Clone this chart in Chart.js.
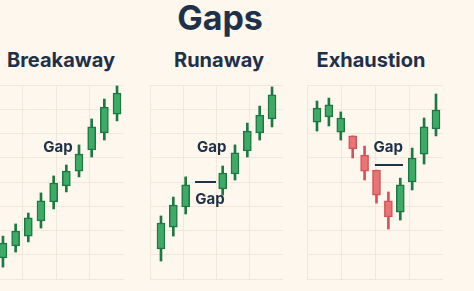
<!DOCTYPE html>
<html>
<head>
<meta charset="utf-8">
<script src="https://cdn.jsdelivr.net/npm/chart.js@4.4.0/dist/chart.umd.min.js"></script>
<style>
  html, body { margin: 0; padding: 0; background: #fdf7ee; width: 474px; height: 291px; overflow: hidden; }
  .txt { position: absolute; font-family: Inter, "Noto Sans", sans-serif; font-weight: 700; color: #1f3149; text-align: center; white-space: nowrap; }
  #titulo { font-size: 34px; line-height: 34px; top: 1px; left: 120px; width: 200px; }
  .sub { font-size: 20px; line-height: 20px; top: 50px; width: 160px; }
  .panel { position: absolute; top: 83px; }
</style>
</head>
<body>
<div id="titulo" class="txt">Gaps</div>
<div class="txt sub" style="left:-19px">Breakaway</div>
<div class="txt sub" style="left:139px">Runaway</div>
<div class="txt sub" style="left:291px">Exhaustion</div>
<canvas id="breakaway_chart" class="panel" width="140" height="198" style="left:-14px"></canvas>
<canvas id="runaway_chart" class="panel" width="137" height="198" style="left:148px"></canvas>
<canvas id="exhaustion_chart" class="panel" width="140" height="198" style="left:305px"></canvas>
<script>
// Velas: posicion, apertura, cierre, maximo, minimo
const breakaway_x = [0, 1, 2, 3, 4, 5, 6, 7, 8, 9];
const breakaway_open = [8.7, 13.6, 17.7, 23.9, 31.8, 38.4, 44.5, 53.2, 60.2, 68.0];
const breakaway_close = [14.8, 19.8, 25.2, 32.2, 39.6, 44.5, 51.5, 62.7, 70.9, 76.7];
const breakaway_high = [17.7, 22.7, 27.2, 35.5, 42.5, 47.0, 55.3, 66.0, 74.2, 79.6];
const breakaway_low = [4.9, 11.1, 15.3, 21.0, 28.9, 35.9, 42.1, 50.3, 57.3, 65.2];

const runaway_x = [0, 1, 2, 5, 6, 7, 8, 9];
const runaway_open = [12.4, 21.4, 29.7, 37.1, 43.3, 52.8, 60.2, 66.0];
const runaway_close = [23.1, 30.5, 38.8, 43.7, 52.0, 61.0, 67.6, 75.9];
const runaway_high = [26.0, 33.8, 42.1, 46.6, 55.3, 64.3, 71.3, 79.2];
const runaway_low = [7.4, 17.7, 26.8, 34.6, 40.8, 50.3, 57.3, 62.7];

const exhaustion_x = [0, 1, 2, 3, 4, 5, 6, 7, 8, 9, 10];
const exhaustion_open = [64.7, 66.8, 60.6, 59.0, 51.1, 44.9, 32.2, 27.6, 40.0, 51.5, 61.9];
const exhaustion_close = [70.5, 71.8, 66.4, 53.6, 44.5, 34.6, 25.6, 38.8, 49.9, 62.7, 69.7];
const exhaustion_high = [73.4, 74.6, 68.9, 59.0, 54.8, 44.9, 35.9, 41.6, 54.0, 66.4, 76.3];
const exhaustion_low = [61.0, 63.1, 57.3, 49.9, 40.8, 31.3, 20.6, 24.3, 36.7, 47.4, 59.0];

const y_min = 0;
const y_max = 80;

// Etiquetas "Gap" y lineas
const gapPlugin = {
    id: 'gaps',
    afterDatasetsDraw(chart, args, opts) {
        const c = chart.ctx;
        const xs = chart.scales.x;
        const ys = chart.scales.y;
        c.save();
        c.fillStyle = '#1f3149';
        c.strokeStyle = '#1f3149';
        c.lineWidth = 2;
        c.font = '700 15px Inter, "Noto Sans", sans-serif';
        c.textAlign = 'center';
        c.textBaseline = 'alphabetic';
        (opts.labels || []).forEach(function (l) {
            c.fillText(l.text, xs.getPixelForValue(l.x), ys.getPixelForValue(l.y));
        });
        (opts.lines || []).forEach(function (l) {
            const y = Math.round(ys.getPixelForValue(l.y));
            c.beginPath();
            c.moveTo(xs.getPixelForValue(l.x1), y);
            c.lineTo(xs.getPixelForValue(l.x2), y);
            c.stroke();
        });
        c.restore();
    }
};

function GraficaVelas(id, pos, open, close, high, low, x_min, x_max, extras) {
    let ctx = document.getElementById(id).getContext('2d');
    var sube = close.map(function (v, i) { return v >= open[i]; });
    var relleno = sube.map(function (s) { return s ? '#3dab65' : '#ea7373'; });
    var borde = sube.map(function (s) { return s ? '#1d7843' : '#d6525a'; });

    new Chart(ctx, {
        type: 'bar',
        data: {
            datasets: [
                {
                    data: pos.map(function (x, i) { return { x: x, y: [open[i], close[i]] }; }),
                    backgroundColor: relleno,
                    borderColor: borde,
                    borderWidth: 1.5,
                    borderSkipped: false,
                    barThickness: 8,
                    grouped: false
                },
                {
                    data: pos.map(function (x, i) { return { x: x, y: [low[i], high[i]] }; }),
                    backgroundColor: borde,
                    borderWidth: 0,
                    barThickness: 2,
                    grouped: false
                }
            ]
        },
        options: {
            responsive: false,
            animation: false,
            layout: { padding: 2 },
            plugins: {
                legend: { display: false },
                tooltip: { enabled: false },
                gaps: extras
            },
            scales: {
                x: {
                    type: 'linear',
                    min: x_min,
                    max: x_max,
                    offset: false,
                    grid: { offset: false, color: '#f1e8da', lineWidth: 1, drawTicks: false },
                    border: { display: false },
                    ticks: { display: false },
                    afterBuildTicks: function (axis) {
                        axis.ticks = [0, 1, 2, 3].map(function (k) {
                            return { value: x_min + k * (x_max - x_min) / 4 };
                        });
                    }
                },
                y: {
                    min: y_min,
                    max: y_max,
                    grid: { color: '#f1e8da', lineWidth: 1, drawTicks: false },
                    border: { display: false },
                    ticks: { display: false, stepSize: 10 }
                }
            }
        },
        plugins: [gapPlugin]
    });
}

GraficaVelas('breakaway_chart', breakaway_x, breakaway_open, breakaway_close, breakaway_high, breakaway_low, -1.18, 9.55,
    { labels: [{ text: 'Gap', x: 4.34, y: 52.2 }] });
GraficaVelas('runaway_chart', runaway_x, runaway_open, runaway_close, runaway_high, runaway_low, -0.89, 9.89,
    { labels: [{ text: 'Gap', x: 4.11, y: 52.2 }, { text: 'Gap', x: 3.97, y: 30.8 }],
      lines: [{ x1: 2.76, x2: 4.46, y: 40.0 }] });
GraficaVelas('exhaustion_chart', exhaustion_x, exhaustion_open, exhaustion_close, exhaustion_high, exhaustion_low, -0.84, 10.59,
    { labels: [{ text: 'Gap', x: 5.99, y: 52.5 }],
      lines: [{ x1: 4.87, x2: 7.23, y: 47.0 }] });
</script>
</body>
</html>
